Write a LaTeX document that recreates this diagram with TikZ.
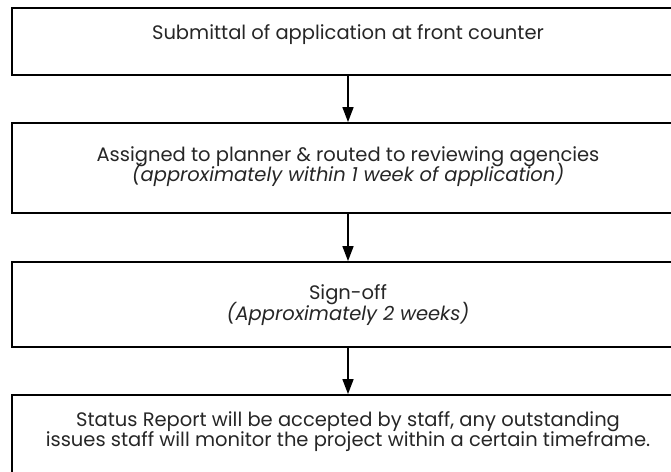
\documentclass[tikz,border=0pt]{standalone}
\usepackage{fontspec}
\setmainfont{Poppins}
\usepackage{tikz}
\usetikzlibrary{arrows.meta}
\usetikzlibrary{positioning}

\tikzset{
  stepbox/.style={draw, line width=1.8pt, minimum width=672pt, inner sep=0pt},
  steptext/.style={anchor=base, inner sep=0pt, text=black!85, font=\fontsize{19.5}{22}\selectfont},
  flow/.style={line width=1.4pt, -{Triangle[width=11pt,length=15pt]}}
}

\begin{document}
\begin{tikzpicture}[x=1pt,y=1pt]
\useasboundingbox (0,0) rectangle (671,-471);
\clip (0,0) rectangle (671,-471);
% boxes
\node [stepbox, minimum height=67pt] (submit) at (348,-41.5) {};
\node [stepbox, minimum height=90pt] (assign) at (348,-168) {};
\node [stepbox, minimum height=85pt] (signoff) at (348,-304.5) {};
\node [stepbox, minimum height=110pt] (report) at (348,-450) {};
% texts
\node [steptext] (submitA) at (348,-39) {Submittal of application at front counter};
\node [steptext] (assignA) at (348,-161) {Assigned to planner \& routed to reviewing agencies};
\node [steptext] (assignB) at (348,-181) {\itshape (approximately within 1 week of application)};
\node [steptext] (signoffA) at (348,-299) {Sign-off};
\node [steptext] (signoffB) at (348,-320) {\itshape (Approximately 2 weeks)};
\node [steptext] (reportA) at (348,-426) {Status Report will be accepted by staff, any outstanding};
\node [steptext] (reportB) at (348,-446) {issues staff will monitor the project within a certain timeframe.};
% arrows
\draw [flow] (submit.south) -- (assign.north);
\draw [flow] (assign.south) -- (signoff.north);
\draw [flow] (signoff.south) -- (report.north);
\end{tikzpicture}
\end{document}
